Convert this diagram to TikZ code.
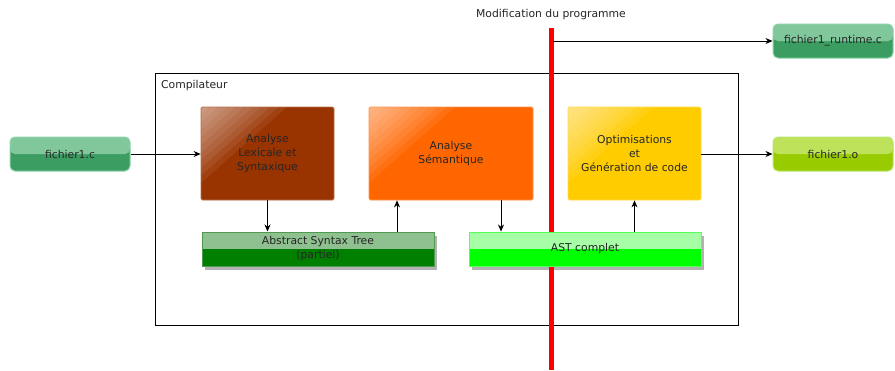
\documentclass[tikz,border=0pt]{standalone}
\usepackage{fontspec}
\setmainfont{DejaVu Sans}
\usetikzlibrary{arrows.meta}

\definecolor{lexc}{HTML}{993300}
\definecolor{semc}{HTML}{FF6600}
\definecolor{optc}{HTML}{FFCC00}
\definecolor{filetop}{HTML}{80C89C}
\definecolor{filebot}{HTML}{3C9D62}
\definecolor{filebd}{HTML}{8ED3A7}
\definecolor{objtop}{HTML}{BEE35A}
\definecolor{objbot}{HTML}{99CC00}
\definecolor{objbd}{HTML}{B8E66A}
\definecolor{asttop}{HTML}{8FC08F}
\definecolor{astbot}{HTML}{007F00}
\definecolor{astbd}{HTML}{4F9A4F}
\definecolor{cmptop}{HTML}{A6FFA6}
\definecolor{cmpbot}{HTML}{00FF00}
\definecolor{cmpbd}{HTML}{55FF55}

\tikzset{
  every node/.style={font=\fontsize{10.8}{14}\selectfont, text=black!85, align=center},
  arr/.style={-{Stealth[length=7pt,width=6pt]}, line width=0.8pt, black},
  twotone/.style={path picture={
      \fill[#1] (path picture bounding box.north west) rectangle (path picture bounding box.east);}},
  filebox/.style 2 args={rounded corners=5pt, minimum width=120pt, minimum height=34pt,
      inner sep=0pt, draw=#2, line width=1pt, fill=#1bot, twotone={#1top}},
  barbox/.style 2 args={minimum width=232pt, minimum height=34pt, inner sep=0pt,
      draw=#2, line width=1pt, fill=#1bot, twotone={#1top}},
  barshadow/.style={fill=black, opacity=0.3},
  marker/.style={red, line width=5pt},
  gloss/.style={path picture={
      \foreach \s in {1,0.9,0.8,0.7,0.6,0.5,0.4,0.3,0.2,0.1}{
        \fill[white,opacity=0.07] (path picture bounding box.north west)
          -- ++(86*\s,0) -- ++(-86*\s,76*\s) -- cycle;}}},
  stagebox/.style={fill=#1, draw=#1!70!white, line width=0.8pt, rounded corners=1.5pt,
      minimum height=93pt, inner sep=0pt, gloss},
}

\begin{document}
\begin{tikzpicture}[x=1pt,y=-1pt]
\useasboundingbox[fill=white] (0,0) rectangle (895,370);

% compiler frame
\node[draw=black, line width=0.8pt, minimum width=583pt, minimum height=252pt, inner sep=0pt]
  (comp) at (446.5,199) {};
\node[anchor=west, inner sep=0pt] (complbl) at (161,86) {Compilateur};

% input / output files
\node[filebox={file}{filebd}] (src) at (70,154) {fichier1.c};
\node[filebox={file}{filebd}] (rt) at (833,41) {fichier1\_runtime.c};
\node[filebox={obj}{objbd}] (obj) at (833,154) {fichier1.o};

% compiler stages
\node[stagebox=lexc, minimum width=133pt] (lex) at (267.5,153.5) {Analyse\\Lexicale et\\Syntaxique};
\node[stagebox=semc, minimum width=164pt] (sem) at (451,153.5) {Analyse\\Sémantique};
\node[stagebox=optc, minimum width=133pt] (opt) at (634.5,153.5) {Optimisations\\et\\Génération de code};

% syntax trees, each with a soft offset shadow
\fill[barshadow] (204.5,235.5) rectangle (436.5,269.5);
\fill[barshadow] (471.5,235.5) rectangle (703.5,269.5);
\node[barbox={ast}{astbd}] (astp) at (318,249) {Abstract Syntax Tree\\(partiel)};
\node[barbox={cmp}{cmpbd}] (astc) at (585,249) {AST complet};

% program change marker, passing behind the complete AST
\node (modlbl) at (551,15) {Modification du programme};
\coordinate (redtop) at (551,28);
\coordinate (redbot) at (551,370);
\coordinate (tap) at (553,41);
\draw[marker] (redtop) -- (redtop |- astc.north);
\draw[marker] (redbot |- astc.south) -- (redbot);

% flows
\draw[arr] (src.east) -- (src.east -| lex.west);
\draw[arr] (obj.west -| opt.east) -- (obj.west);
\draw[arr] (tap) -- (tap -| rt.west);
\draw[arr] (lex.south) -- (lex.south |- astp.north);
\draw[arr] (astp.north -| 397,0) -- (sem.south -| 397,0);
\draw[arr] (sem.south -| 501,0) -- (astc.north -| 501,0);
\draw[arr] (astc.north -| opt.south) -- (opt.south);
\end{tikzpicture}
\end{document}
